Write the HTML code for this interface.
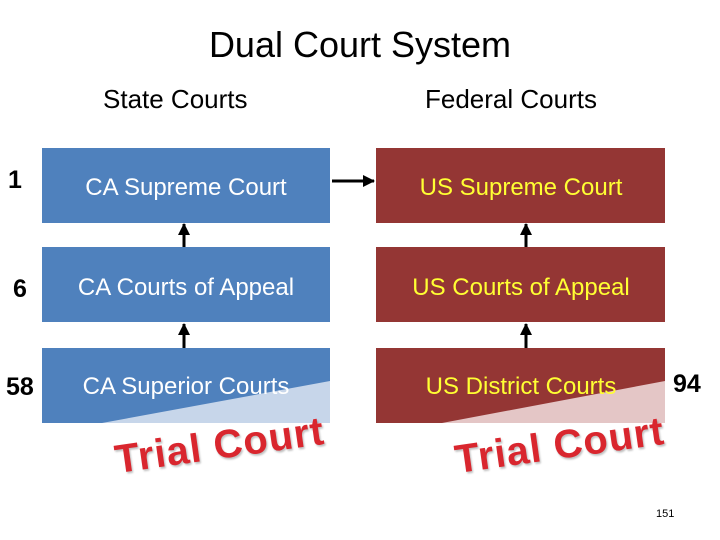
<!DOCTYPE html>
<html><head><style>
body{margin:0;width:720px;height:540px;background:#fff;position:relative;overflow:hidden;font-family:"Liberation Sans",sans-serif}
.t{position:absolute;white-space:nowrap}
.num{position:absolute;font-weight:bold;font-size:25px;color:#000}
.tc{position:absolute;font-weight:bold;font-size:40px;line-height:40px;color:#d9262e;transform:rotate(-8deg);transform-origin:left bottom;letter-spacing:1px;text-shadow:1px 2px 2px rgba(0,0,0,.25)}
</style></head><body>
<div class="t" style="left:0;width:720px;text-align:center;top:24px;font-size:36px">Dual Court System</div>
<div class="t" style="left:103px;top:84px;font-size:26px">State Courts</div>
<div class="t" style="left:425px;top:84px;font-size:26px">Federal Courts</div>

<svg width="720" height="540" style="position:absolute;left:0;top:0">
<defs><marker id="a" markerUnits="userSpaceOnUse" markerWidth="12" markerHeight="12" refX="11" refY="6" orient="auto"><path d="M0,0 L12,6 L0,12z" fill="#000"/></marker></defs>
<rect x="42" y="148" width="288" height="75" fill="#4f81bd"/>
<rect x="42" y="247" width="288" height="75" fill="#4f81bd"/>
<rect x="42" y="348" width="288" height="75" fill="#4f81bd"/>
<polygon points="102,423 330,381 330,423" fill="#c7d6ea"/>
<rect x="376" y="148" width="289" height="75" fill="#943634"/>
<rect x="376" y="247" width="289" height="75" fill="#943634"/>
<rect x="376" y="348" width="289" height="75" fill="#943634"/>
<polygon points="442,423 665,381 665,423" fill="#e4c6c6"/>
<g stroke="#000" stroke-width="3" marker-end="url(#a)">
<line x1="332" y1="181" x2="374" y2="181"/>
<line x1="184" y1="247" x2="184" y2="224"/>
<line x1="184" y1="348" x2="184" y2="324"/>
<line x1="526" y1="247" x2="526" y2="224"/>
<line x1="526" y1="348" x2="526" y2="324"/>
</g>
<g font-family="Liberation Sans, sans-serif" font-size="24" text-anchor="middle">
<text x="186" y="195" fill="#fff">CA Supreme Court</text>
<text x="186" y="295" fill="#fff">CA Courts of Appeal</text>
<text x="186" y="394" fill="#fff">CA Superior Courts</text>
<text x="521" y="195" fill="#ffff33">US Supreme Court</text>
<text x="521" y="295" fill="#ffff33">US Courts of Appeal</text>
<text x="521" y="394" fill="#ffff33">US District Courts</text>
</g>
</svg>
<div class="num" style="left:8px;top:166px">1</div>
<div class="num" style="left:13px;top:275px">6</div>
<div class="num" style="left:6px;top:373px">58</div>
<div class="num" style="left:673px;top:370px">94</div>
<div class="tc" style="left:118px;top:440px">Trial Court</div>
<div class="tc" style="left:458px;top:440px">Trial Court</div>
<div class="t" style="left:656px;top:508px;font-size:11px">151</div>
</body></html>
